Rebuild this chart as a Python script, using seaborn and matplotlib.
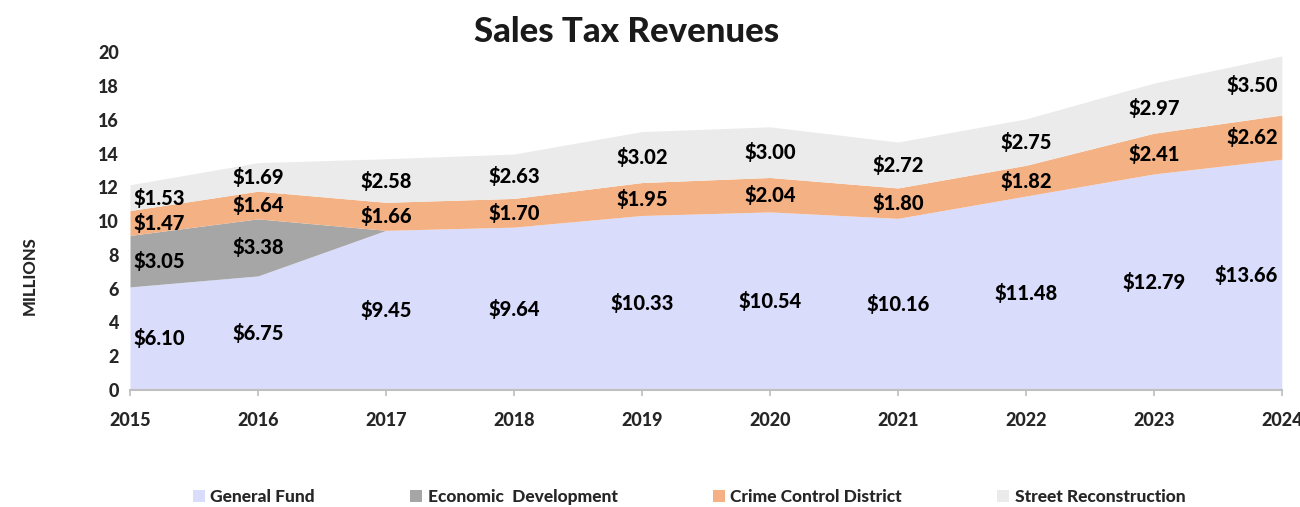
import matplotlib
matplotlib.use("Agg")
import matplotlib.pyplot as plt
import numpy as np
import pandas as pd
import seaborn as sns

years = [2015, 2016, 2017, 2018, 2019, 2020, 2021, 2022, 2023, 2024]
general_fund = [6.10, 6.75, 9.45, 9.64, 10.33, 10.54, 10.16, 11.48, 12.79, 13.66]
economic_dev = [3.05, 3.38, 0, 0, 0, 0, 0, 0, 0, 0]
crime_control = [1.47, 1.64, 1.66, 1.70, 1.95, 2.04, 1.80, 1.82, 2.41, 2.62]
street_recon = [1.53, 1.69, 2.58, 2.63, 3.02, 3.00, 2.72, 2.75, 2.97, 3.50]

series_names = ["General Fund", "Economic  Development", "Crime Control District", "Street Reconstruction"]
colors = ["#DADCFB", "#A6A6A6", "#F4B183", "#EBEBEB"]

df = pd.DataFrame({
    "year": years,
    series_names[0]: general_fund,
    series_names[1]: economic_dev,
    series_names[2]: crime_control,
    series_names[3]: street_recon,
})

sns.set_theme(style="white")
plt.rcParams["font.family"] = ["Lato", "DejaVu Sans"]
HEAVY = 900

fig = plt.figure(figsize=(13, 5.07), dpi=100)
ax = fig.add_axes([0.1, 0.231, 0.886, 0.666])

bottom = np.zeros(len(years))
for name, color in zip(series_names, colors):
    vals = df[name].to_numpy()
    ax.fill_between(df["year"], bottom, bottom + vals, color=color, label=name, linewidth=0)
    for i, (yr, v) in enumerate(zip(years, vals)):
        if v <= 0:
            continue
        if i == 0:
            x, ha = yr + 0.03, "left"
        elif i == len(years) - 1:
            x, ha = yr - 0.03, "right"
        else:
            x, ha = yr, "center"
        ax.text(x, bottom[i] + v / 2, f"${v:.2f}", ha=ha, va="center",
                fontsize=14.5, fontweight=HEAVY, color="black")
    bottom = bottom + vals

ax.set_xlim(2015, 2024)
ax.set_ylim(0, 20)
ax.set_xticks(years)
ax.set_xticklabels([str(y) for y in years], fontsize=13, fontweight=HEAVY)
ax.set_yticks(range(0, 21, 2))
ax.set_yticklabels([str(v) for v in range(0, 21, 2)], fontsize=13, fontweight=HEAVY)
ax.tick_params(axis="x", length=4, color="#BFBFBF", pad=12, direction="out", bottom=True)
ax.tick_params(axis="y", length=0, pad=8)
for side in ["top", "right", "left"]:
    ax.spines[side].set_visible(False)
ax.spines["bottom"].set_color("#BFBFBF")
ax.spines["bottom"].set_linewidth(1.5)

fig.text(0.023, 0.457, "MILLIONS", rotation=90, ha="center", va="center",
         fontsize=12, fontweight=HEAVY)
fig.text(0.482, 0.937, "Sales Tax Revenues", ha="center", va="center",
         fontsize=25, fontweight=HEAVY, color="#1a1a1a")

handles, labels = ax.get_legend_handles_labels()
fig.legend(handles, labels, loc="center", bbox_to_anchor=(0.53, 0.02), ncol=4,
           frameon=False, handlelength=0.7, handleheight=0.7, handletextpad=0.3,
           columnspacing=5.5, prop={"weight": HEAVY, "size": 12.5})

fig.savefig("out.png", dpi=100)
